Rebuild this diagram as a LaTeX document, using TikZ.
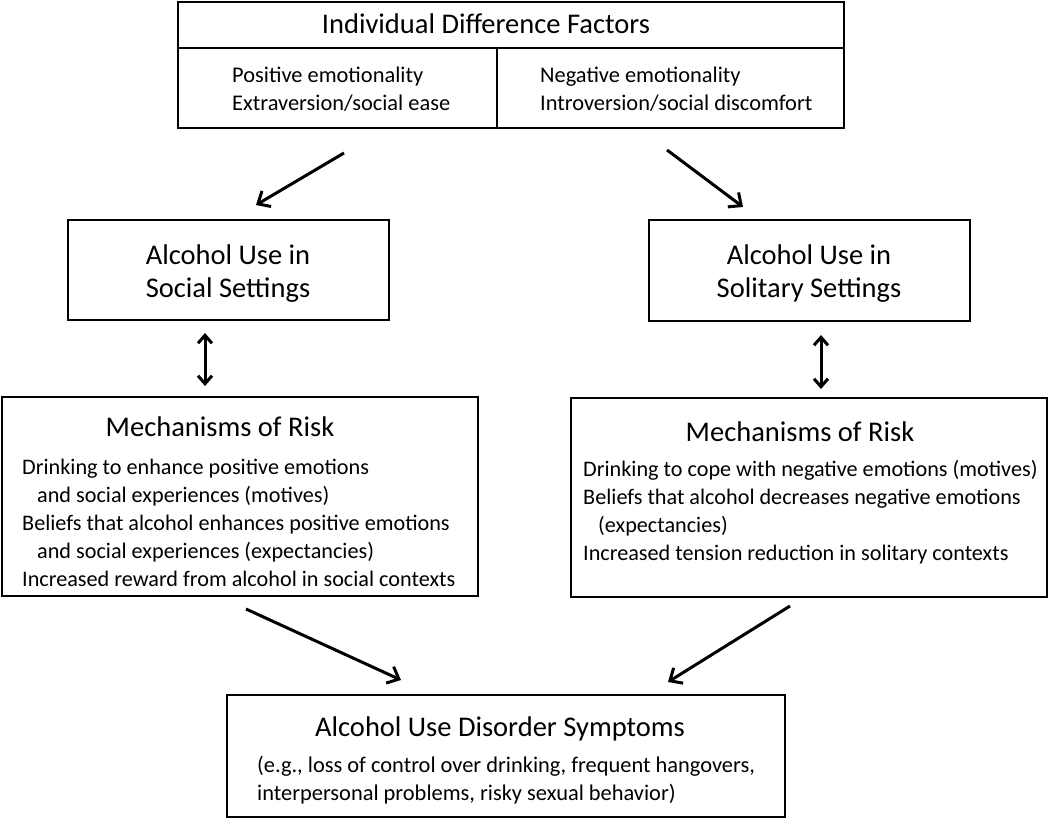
\documentclass[tikz,border=0pt]{standalone}
\usepackage{fontspec}
\setmainfont{Carlito}
\usetikzlibrary{arrows.meta}
\begin{document}
\begin{tikzpicture}[x=1pt,y=-1pt,
  box/.style={draw, line width=1.4pt, inner sep=0pt, rectangle},
  ttl/.style={inner sep=0pt, font=\fontsize{28.5}{33}\selectfont, align=center},
  body/.style={inner sep=0pt, font=\fontsize{22.2}{28}\selectfont, align=left, anchor=west},
  sub/.style={inner sep=0pt, font=\fontsize{22.4}{28}\selectfont, align=left, anchor=west},
  arr/.style={line width=3pt, -{Straight Barb[length=10pt,width=18pt,line width=3pt]}},
  darr/.style={line width=3pt, {Straight Barb[length=8pt,width=14pt,line width=3pt]}-{Straight Barb[length=8pt,width=14pt,line width=3pt]}}
]
\useasboundingbox (0,0) rectangle (1050,819);
% top box
\node[box, minimum width=666pt, minimum height=126pt] (idf) at (511,65) {};
\coordinate (hl) at (178,48);
\coordinate (hr) at (844,48);
\draw[line width=1.4pt] (hl) -- (hr);
\coordinate (vt) at (497,48);
\coordinate (vb) at (497,128);
\draw[line width=1.4pt] (vt) -- (vb);
\node[ttl] (idft) at (486,24) {Individual Difference Factors};
\node[sub] (pos) at (232,89) {Positive emotionality\\Extraversion/social ease};
\node[sub] (neg) at (540,89) {Negative emotionality\\Introversion/social discomfort};
% alcohol use boxes
\node[box, minimum width=321pt, minimum height=100pt] (soc) at (228.5,270) {};
\node[ttl] (soct) at (228,274) {Alcohol Use in\\Social Settings};
\node[box, minimum width=321pt, minimum height=101pt] (sol) at (809.5,270.5) {};
\node[ttl] (solt) at (809,274) {Alcohol Use in\\Solitary Settings};
% mechanisms
\node[box, minimum width=476pt, minimum height=199pt] (mL) at (240,496.5) {};
\node[ttl] (mLt) at (220,427) {Mechanisms of Risk};
\node[body] (mLb) at (22,523) {Drinking to enhance positive emotions\\
\hspace{15pt}and social experiences (motives)\\
Beliefs that alcohol enhances positive emotions\\
\hspace{15pt}and social experiences (expectancies)\\
Increased reward from alcohol in social contexts};
\node[box, minimum width=476pt, minimum height=199pt] (mR) at (809,497.5) {};
\node[ttl] (mRt) at (800,432) {Mechanisms of Risk};
\node[body] (mRb) at (583,512) {Drinking to cope with negative emotions (motives)\\
Beliefs that alcohol decreases negative emotions\\
\hspace{15pt}(expectancies)\\
Increased tension reduction in solitary contexts};
% bottom
\node[box, minimum width=558pt, minimum height=122pt] (aud) at (506,756) {};
\node[ttl] (audt) at (500,729) {Alcohol Use Disorder Symptoms};
\node[sub] (audb) at (257,780) {(e.g., loss of control over drinking, frequent hangovers,\\interpersonal problems, risky sexual behavior)};
% arrows
\coordinate (a1s) at (344,153); \coordinate (a1e) at (256,205);
\draw[arr] (a1s) -- (a1e);
\coordinate (a2s) at (667,150); \coordinate (a2e) at (743,207);
\draw[arr] (a2s) -- (a2e);
\coordinate (d1s) at (205,333); \coordinate (d1e) at (205,386);
\draw[darr] (d1s) -- (d1e);
\coordinate (d2s) at (821,335); \coordinate (d2e) at (821,389);
\draw[darr] (d2s) -- (d2e);
\coordinate (a3s) at (246,609); \coordinate (a3e) at (401,680);
\draw[arr] (a3s) -- (a3e);
\coordinate (a4s) at (790,606); \coordinate (a4e) at (668,682);
\draw[arr] (a4s) -- (a4e);
\end{tikzpicture}
\end{document}
